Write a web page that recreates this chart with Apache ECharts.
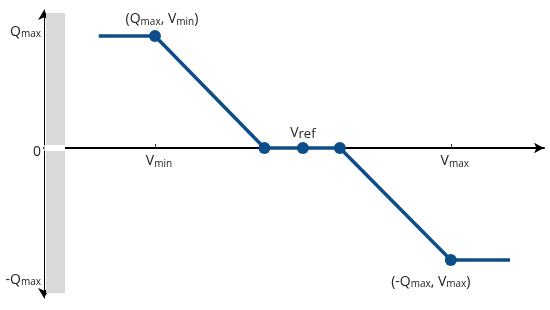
<!DOCTYPE html>
<html>
<head>
<meta charset="utf-8">
<script src="https://cdn.jsdelivr.net/npm/echarts@6/dist/echarts.min.js"></script>
<style>
  html, body { margin: 0; padding: 0; background: #fff; }
  #main { width: 550px; height: 310px; }
</style>
</head>
<body>
<div id="main"></div>
<script>
// droop characteristic: voltage (p.u.) vs reactive power (per Qmax)
const voltage = [0.862, 0.9, 0.974, 1.0, 1.025, 1.1, 1.14]
const reactive = [1, 1, 0, 0, 0, -1, -1]
const pointLabels = ["", "{b|(Q}{s|max}{b|, V}{s|min}{b|)}", "", "{b|V}{r|ref}", "", "{b|(-Q}{s|max}{b|, V}{s|max}{b|)}", ""]
const xTicks = [0.9, 1.1]
const xTickLabels = ["{x|V}{s|min}", "{x|V}{s|max}"]
const yTicks = [1, 0, -1]
const yTickLabels = ["{q|Q}{qs|max}", "{z|0}", "{d|-Q}{ds|max}"]
// grey band next to the Q axis (voltage from/to, Q top, gap top, gap bottom, Q bottom)
const band = [0.8264, 0.8392, 1.205, 0.027, -0.027, -1.295]

const BLUE = "#0d4d8a"
const FONT = "Open Sans"
const TXT = "#222"
const rich = {
  b: { fontSize: 14, fontFamily: FONT, color: TXT },
  x: { fontSize: 14, fontFamily: FONT, color: TXT, padding: [0, 0, 0, 8] },
  z: { fontSize: 14, fontFamily: FONT, color: TXT, padding: [8, 0, 0, 0] },
  q: { fontSize: 14, fontFamily: FONT, color: TXT, padding: [0, 0, 8, 0] },
  qs: { fontSize: 10, fontFamily: FONT, color: TXT, padding: [0, 0, 3, 0] },
  r: { fontSize: 13, fontFamily: FONT, color: TXT, padding: [3, 0, 0, 0] },
  s: { fontSize: 10, fontFamily: FONT, color: TXT, padding: [5, 0, 0, 0] },
  d: { fontSize: 14, fontFamily: FONT, color: TXT, padding: [40, 0, 0, 0] },
  ds: { fontSize: 10, fontFamily: FONT, color: TXT, padding: [45, 0, 0, 0] },
}

const chart = echarts.init(document.getElementById("main"))

const data = voltage.map((v, i) => {
  const item = { value: [v, reactive[i]] }
  if (i === 0 || i === voltage.length - 1) item.symbol = "none"
  if (pointLabels[i]) {
    item.label = { show: true, formatter: pointLabels[i], rich }
    if (i === 1) { item.label.offset = [7, 0]; item.label.distance = 3 }
    if (i === 3) item.label.distance = 1
    if (i === 5) { item.label.position = "bottom"; item.label.offset = [-20, 3] }
  }
  return item
})

chart.setOption({
  animation: false,
  grid: { left: 44, right: 6, top: 10, bottom: 12 },
  xAxis: {
    type: "value",
    min: 0.825,
    max: 1.163,
    offset: -150,
    splitLine: { show: false },
    axisLine: {
      onZero: false,
      symbol: ["none", "arrow"],
      symbolSize: [8, 10],
      lineStyle: { color: "#000", width: 2 },
    },
    axisTick: { show: true, inside: true, length: 4, customValues: xTicks, lineStyle: { color: "#333" } },
    axisLabel: {
      customValues: xTicks,
      margin: 6,
      formatter: (val) => xTickLabels[xTicks.indexOf(val)] || "",
      rich,
    },
  },
  yAxis: {
    type: "value",
    min: -1.339,
    max: 1.232,
    splitLine: { show: false },
    axisLine: {
      show: true,
      onZero: false,
      symbol: ["arrow", "arrow"],
      symbolSize: [9, 10],
      lineStyle: { color: "#000", width: 1 },
    },
    axisTick: { show: false },
    axisLabel: {
      customValues: yTicks,
      margin: 3,
      formatter: (val) => yTickLabels[yTicks.indexOf(val)] || "",
      rich,
    },
  },
  series: [
    {
      type: "line",
      data,
      clip: false,
      symbol: "circle",
      symbolSize: 12,
      itemStyle: { color: BLUE },
      lineStyle: { color: BLUE, width: 3.5 },
      label: { position: "top", distance: 5 },
      markArea: {
        silent: true,
        data: [
          [{ coord: [band[0], band[2]], itemStyle: { color: "#d9d9d9" } }, { coord: [band[1], band[3]] }],
          [{ coord: [band[0] - 0.0012, band[3]], itemStyle: { color: "#fff" } }, { coord: [band[1], band[4]] }],
          [{ coord: [band[0], band[4]], itemStyle: { color: "#d9d9d9" } }, { coord: [band[1], band[5]] }],
        ],
      },
    },
  ],
})
</script>
</body>
</html>
